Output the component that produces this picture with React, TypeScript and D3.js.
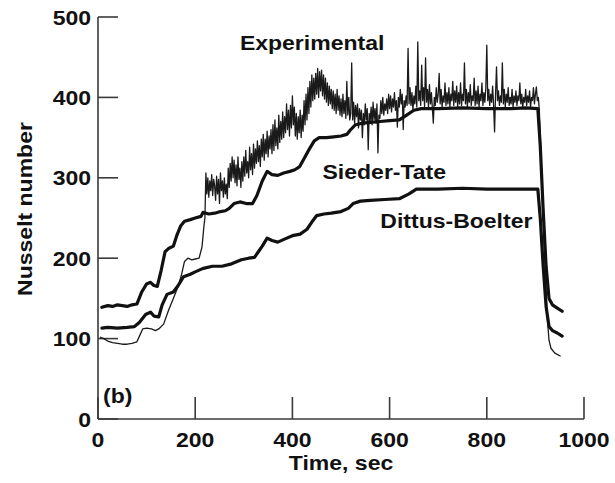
import React from "react";
import * as d3 from "d3";

// Experimental trace: slow start-up part as (time s, Nu) pairs
const expStart: [number, number][] = [
  [4, 102], [12, 100], [20, 97], [30, 95], [40, 94], [50, 93], [60, 93], [70, 94], [80, 96],
  [86, 104], [92, 112], [100, 113], [110, 112], [118, 110], [125, 112], [135, 118], [145, 135],
  [155, 150], [165, 165], [172, 180], [178, 196], [185, 200], [193, 198], [200, 199], [208, 200],
  [214, 214], [218, 240],
];

// Experimental trace: fluctuating part, sampled every 2 s from t = 220 s
const EXP_T0 = 220;
const EXP_DT = 2;
const expNoisy: number[] = [
  250, 306, 280, 300, 276, 296, 284, 304, 278, 298,
  290, 272, 302, 280, 298, 268, 306, 284, 296, 276,
  300, 280, 292, 274, 312, 288, 318, 296, 326, 300,
  322, 294, 316, 290, 326, 298, 312, 288, 320, 296,
  326, 302, 334, 306, 320, 300, 338, 310, 330, 304,
  342, 312, 336, 318, 346, 320, 340, 314, 348, 326,
  354, 322, 348, 330, 358, 326, 352, 336, 360, 330,
  366, 334, 372, 340, 362, 336, 378, 344, 370, 348,
  382, 350, 376, 356, 392, 360, 384, 352, 390, 362,
  402, 366, 388, 352, 380, 348, 376, 356, 384, 350,
  378, 358, 396, 366, 404, 372, 412, 380, 420, 388,
  428, 396, 424, 398, 430, 404, 436, 400, 432, 408,
  434, 402, 428, 398, 424, 394, 418, 390, 414, 392,
  410, 386, 408, 384, 404, 380, 410, 384, 402, 378,
  398, 376, 404, 380, 396, 374, 420, 378, 400, 372,
  380, 443, 372, 394, 368, 390, 376, 392, 362, 386,
  372, 384, 350, 380, 366, 392, 372, 386, 335, 380,
  370, 388, 366, 394, 372, 386, 368, 392, 331, 378,
  374, 396, 380, 400, 378, 392, 384, 398, 380, 404,
  386, 402, 382, 398, 388, 406, 384, 396, 363, 400,
  388, 410, 392, 404, 360, 396, 388, 402, 390, 461,
  392, 412, 390, 406, 384, 402, 392, 414, 388, 469,
  396, 408, 390, 440, 396, 412, 388, 449, 394, 410,
  388, 416, 392, 406, 386, 368, 400, 390, 412, 394,
  404, 430, 392, 410, 388, 402, 394, 418, 390, 406,
  392, 412, 388, 404, 396, 420, 390, 408, 394, 414,
  388, 406, 392, 418, 390, 404, 396, 443, 392, 410,
  388, 406, 394, 416, 390, 402, 396, 424, 390, 408,
  392, 414, 388, 404, 396, 418, 390, 406, 394, 412,
  465, 396, 410, 390, 404, 394, 414, 390, 357, 404,
  438, 396, 408, 390, 402, 394, 443, 392, 410, 388,
  404, 394, 412, 390, 400, 392, 410, 388, 402, 394,
  408, 390, 402, 396, 418, 392, 404, 388, 400, 394,
  410, 390, 402, 394, 408, 388, 400, 396, 412, 392,
  404, 413, 396, 400, 385,
];

// Experimental trace: shutdown
const expEnd: [number, number][] = [
  [912, 320], [918, 220], [924, 130], [928, 98], [932, 88], [940, 82], [952, 78],
];

const experimental: [number, number][] = [
  ...expStart,
  ...expNoisy.map((v, i) => [EXP_T0 + i * EXP_DT, v] as [number, number]),
  ...expEnd,
];

const siederTate: [number, number][] = [
  [8, 139], [20, 141], [30, 140], [40, 142], [50, 141], [60, 140], [70, 142], [80, 143],
  [90, 158], [100, 168], [108, 170], [115, 166], [122, 165], [130, 185], [138, 208], [145, 212],
  [155, 215], [162, 228], [170, 240], [178, 246], [190, 248], [200, 250], [212, 252], [216, 257],
  [228, 255], [240, 256], [252, 258], [262, 259], [270, 262], [280, 268], [292, 270], [305, 268],
  [318, 268], [327, 278], [338, 296], [348, 308], [358, 304], [370, 303], [382, 306], [395, 308],
  [405, 310], [415, 314], [425, 325], [435, 336], [445, 346], [455, 350], [470, 350], [485, 351],
  [500, 352], [512, 354], [520, 360], [530, 366], [545, 368], [560, 369], [580, 370], [600, 371],
  [620, 372], [635, 378], [650, 384], [665, 386], [700, 386], [750, 387], [800, 386], [850, 386],
  [880, 387], [905, 386], [910, 340], [916, 260], [922, 190], [928, 150], [935, 142], [945, 138],
  [955, 134],
];

const dittusBoelter: [number, number][] = [
  [8, 113], [20, 114], [40, 113], [60, 114], [75, 115], [85, 120], [98, 130], [108, 133],
  [115, 128], [125, 127], [132, 142], [142, 155], [155, 158], [165, 166], [176, 177], [190, 180],
  [200, 183], [215, 187], [235, 190], [255, 190], [275, 193], [295, 198], [310, 200], [322, 201],
  [330, 208], [338, 215], [348, 225], [358, 222], [370, 220], [385, 224], [400, 228], [416, 230],
  [430, 236], [440, 245], [450, 253], [465, 255], [480, 256], [500, 258], [515, 262], [525, 268],
  [540, 271], [560, 272], [590, 273], [620, 274], [640, 280], [655, 286], [700, 286], [750, 287],
  [800, 286], [850, 286], [905, 286], [910, 250], [916, 190], [922, 140], [928, 115], [935, 110],
  [945, 107], [955, 103],
];

const xTicks = [0, 200, 400, 600, 800, 1000];
const yTicks = [0, 100, 200, 300, 400, 500];

const seriesLabels = [
  { text: "Experimental", t: 292, nu: 459 },
  { text: "Sieder-Tate", t: 462, nu: 299 },
  { text: "Dittus-Boelter", t: 581, nu: 237 },
];

const FONT = "'Liberation Sans', Arial, Helvetica, sans-serif";
const STRETCH = 1.15;

export default function App() {
  const x = d3.scaleLinear().domain([0, 1000]).range([98, 584]);
  const y = d3.scaleLinear().domain([0, 500]).range([419, 17]);
  const line = d3
    .line<[number, number]>()
    .x((d) => x(d[0]))
    .y((d) => y(d[1]));

  const axisColor = "#3a3a3a";
  const ink = "#111";

  const label = (
    key: string,
    text: string,
    px: number,
    py: number,
    anchor: "start" | "middle" | "end",
    rotate = 0
  ) => (
    <text
      key={key}
      transform={`translate(${px},${py})${rotate ? ` rotate(${rotate})` : ""} scale(${STRETCH},1)`}
      textAnchor={anchor}
      fontFamily={FONT}
      fontWeight="bold"
      fontSize={20}
      fill={ink}
    >
      {text}
    </text>
  );

  return (
    <svg
      width={615}
      height={483}
      style={{ position: "absolute", left: 0, top: 0, background: "#fff" }}
    >
      <rect width={615} height={483} fill="#fff" />

      {/* axes */}
      <line x1={x(0)} x2={x(0)} y1={y(500)} y2={y(0)} stroke={axisColor} strokeWidth={1.6} />
      <line x1={x(0)} x2={x(1000)} y1={y(0)} y2={y(0)} stroke={axisColor} strokeWidth={1.6} />
      {yTicks.map((v) => (
        <line key={`yt${v}`} x1={x(0)} x2={x(0) + 20} y1={y(v)} y2={y(v)} stroke={axisColor} strokeWidth={1.6} />
      ))}
      {xTicks.map((v) => (
        <line key={`xt${v}`} x1={x(v)} x2={x(v)} y1={y(0)} y2={y(0) - 22} stroke={axisColor} strokeWidth={1.6} />
      ))}
      {yTicks.map((v) => label(`yl${v}`, String(v), 91, y(v) + 7.5, "end"))}
      {xTicks.map((v) => label(`xl${v}`, String(v), x(v), 447, "middle"))}
      {label("xtitle", "Time, sec", 341, 470, "middle")}
      {label("ytitle", "Nusselt number", 32, 209, "middle", -90)}
      {label("panel", "(b)", 103, 403, "start")}

      {/* traces */}
      <path d={line(experimental) ?? ""} fill="none" stroke="#1a1a1a" strokeWidth={1.3} strokeLinejoin="round" />
      <path d={line(siederTate) ?? ""} fill="none" stroke={ink} strokeWidth={3.2} strokeLinejoin="round" strokeLinecap="round" />
      <path d={line(dittusBoelter) ?? ""} fill="none" stroke={ink} strokeWidth={3.2} strokeLinejoin="round" strokeLinecap="round" />

      {seriesLabels.map((s) => label(`sl${s.text}`, s.text, x(s.t), y(s.nu), "start"))}
    </svg>
  );
}
